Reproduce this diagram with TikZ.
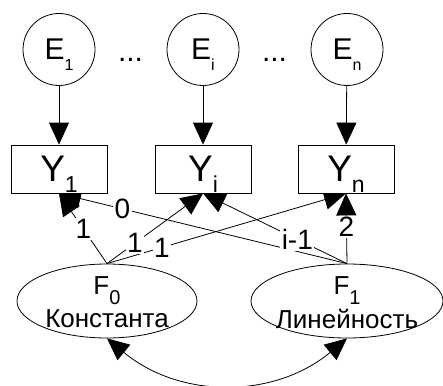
\documentclass[tikz,border=0pt]{standalone}
\usepackage{fontspec}
\setmainfont{Liberation Sans}
\usetikzlibrary{arrows.meta,shapes.geometric}
\pgfdeclarelayer{background}
\pgfsetlayers{background,main}
\newcommand\lowsub[3]{\raisebox{#1}[0pt][0pt]{\fontsize{#2}{#2}\selectfont #3}}
\begin{document}
\begin{tikzpicture}[x=1pt,y=-1pt,
  every node/.style={inner sep=0pt},
  circ/.style={draw,line width=0.8pt,circle,minimum size=72pt,font=\fontsize{30}{33}\selectfont},
  obs/.style={draw,line width=0.8pt,fill=white,minimum width=96pt,minimum height=48pt,font=\fontsize{37}{40}\selectfont},
  fac/.style={draw,line width=0.8pt,ellipse,minimum height=74pt},
  ftxt/.style={font=\fontsize{26}{28}\selectfont},
  arr/.style={line width=0.8pt,-{Triangle[length=22pt,width=20pt]}},
  darr/.style={line width=0.8pt,{Triangle[length=22pt,width=20pt]}-{Triangle[length=22pt,width=20pt]}},
  lbl/.style={fill=white,inner sep=1.5pt,font=\fontsize{28}{30}\selectfont},
  dots/.style={font=\fontsize{30}{33}\selectfont}
]
\useasboundingbox (0,0) rectangle (443,385);

% error terms
\node[circ] (E1) at (59,49.5) {E\lowsub{-11pt}{16}{1}};
\node[circ] (Ei) at (203,49.5) {E\lowsub{-11pt}{16}{i}};
\node[circ] (En) at (347,49.5) {E\lowsub{-11pt}{16}{n}};
\node[dots] (d1) at (130.5,59.5) {...};
\node[dots] (d2) at (274.5,59.5) {...};

% observed
\node[obs] (Y1) at (59,169) {Y\lowsub{-11pt}{23}{1}};
\node[obs] (Yi) at (203,169) {Y\lowsub{-11pt}{23}{i}};
\node[obs] (Yn) at (346,169) {Y\lowsub{-11pt}{23}{n}};

% factors
\node[fac,minimum width=180pt] (F0) at (107,301) {};
\node[ftxt] (F0a) at ([yshift=15.5pt]F0.center) {F\lowsub{-10pt}{20}{0}};
\node[ftxt] (F0b) at ([yshift=-17.5pt]F0.center) {Константа};
\node[fac,minimum width=192pt] (F1) at (347,301) {};
\node[ftxt] (F1a) at ([yshift=15.5pt]F1.center) {F\lowsub{-10pt}{20}{1}};
\node[ftxt] (F1b) at ([yshift=-17.5pt]F1.center) {Линейность};

\begin{pgfonlayer}{background}
  \draw[arr] (E1) -- (Y1);
  \draw[arr] (Ei) -- (Yi);
  \draw[arr] (En) -- (Yn);
  \draw[arr] (F0.north) -- (Y1.south);
  \draw[arr] (F0.north) -- (Yi.south);
  \draw[arr] (F0.north) -- (Yn.south);
  \draw[arr] (F1.north) -- (Y1.south);
  \draw[arr] (F1.north) -- (Yi.south);
  \draw[arr] (F1.north) -- (Yn.south);
  \draw[darr] (F0.south) .. controls (180,399) and (274,399) .. (F1.south);
\end{pgfonlayer}

% path labels on top
\path (F0.north) -- (Y1.south) node[lbl,pos=0.49] (l1) {1};
\path (F0.north) -- (Yi.south) node[lbl,pos=0.29] (l2) {1};
\path (F0.north) -- (Yn.south) node[lbl,pos=0.23] (l3) {1};
\path (F1.north) -- (Y1.south) node[lbl,pos=0.78] (l4) {0};
\path (F1.north) -- (Yi.south) node[lbl,pos=0.345] (l5) {i-1};
\path (F1.north) -- (Yn.south) node[lbl,pos=0.52] (l6) {2};
\end{tikzpicture}
\end{document}
